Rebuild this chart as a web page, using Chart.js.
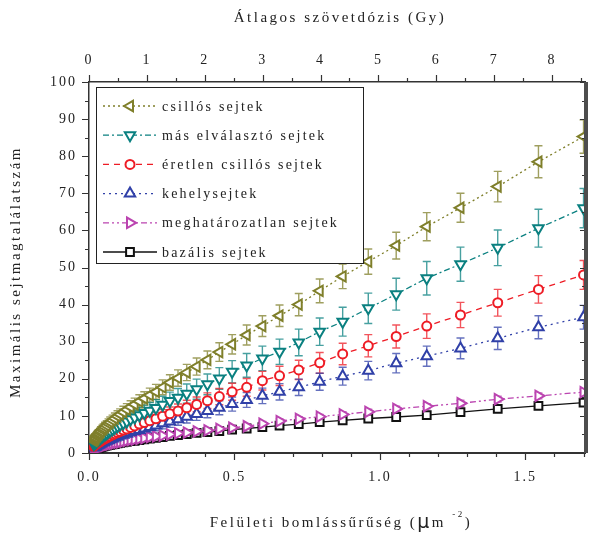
<!DOCTYPE html>
<html>
<head>
<meta charset="utf-8">
<script src="https://cdn.jsdelivr.net/npm/chart.js@4.4.0/dist/chart.umd.min.js"></script>
<style>
  html, body { margin: 0; padding: 0; background: #fff; }
  #wrap { width: 593px; height: 537px; }
</style>
</head>
<body>
<div id="wrap"><canvas id="chart"></canvas></div>
<script>
// Felületi bomlássűrűség (µm^-2) – közös x értékek
const density = [0.016, 0.018, 0.019, 0.021, 0.023, 0.026, 0.028, 0.031, 0.034, 0.038,
                 0.041, 0.046, 0.050, 0.055, 0.061, 0.067, 0.073, 0.081, 0.089, 0.098,
                 0.107, 0.118, 0.130, 0.143, 0.157, 0.173, 0.190, 0.209, 0.230, 0.253,
                 0.278, 0.306, 0.336, 0.370, 0.407, 0.448, 0.492, 0.542, 0.596, 0.655,
                 0.721, 0.793, 0.872, 0.960, 1.056, 1.161, 1.277, 1.405, 1.545, 1.700];

// Maximális sejtmagtalálatszám sejttípusonként
const csillos = [3.3, 3.6, 3.7, 3.9, 4.1, 4.5, 4.7, 5.0, 5.2, 5.6,
                 5.9, 6.3, 6.6, 7.0, 7.4, 7.9, 8.3, 8.8, 9.3, 9.9,
                 10.4, 11.0, 11.7, 12.4, 13.1, 13.9, 14.7, 15.6, 16.5, 17.7,
                 19.0, 20.2, 21.7, 23.3, 25.1, 27.2, 29.3, 31.8, 34.2, 37.0,
                 40.0, 43.7, 47.6, 51.6, 55.9, 61.0, 66.1, 71.8, 78.5, 85.3];
const csillosErr = [0.9, 0.9, 0.9, 0.9, 1.0, 1.0, 1.0, 1.1, 1.1, 1.1,
                    1.2, 1.2, 1.2, 1.3, 1.3, 1.3, 1.4, 1.4, 1.5, 1.5,
                    1.5, 1.6, 1.6, 1.7, 1.7, 1.8, 1.8, 1.9, 2.0, 2.0,
                    2.1, 2.2, 2.2, 2.3, 2.4, 2.5, 2.6, 2.7, 2.8, 2.9,
                    3.0, 3.2, 3.3, 3.4, 3.6, 3.8, 3.9, 4.1, 4.3, 4.5];

const masElvalaszto = [2.4, 2.6, 2.7, 2.8, 2.9, 3.2, 3.4, 3.6, 3.7, 4.0,
                       4.2, 4.5, 4.8, 5.0, 5.3, 5.7, 6.0, 6.4, 6.8, 7.2,
                       7.6, 8.0, 8.5, 9.1, 9.6, 10.2, 10.8, 11.4, 12.1, 13.0,
                       14.0, 14.9, 16.0, 17.2, 18.5, 20.1, 21.9, 23.6, 25.5, 27.3,
                       29.8, 32.7, 35.4, 39.0, 42.8, 47.1, 50.9, 55.3, 60.6, 66.0];
const masElvalasztoErr = [1.0, 1.0, 1.1, 1.1, 1.1, 1.2, 1.2, 1.2, 1.3, 1.3,
                          1.3, 1.4, 1.4, 1.5, 1.5, 1.6, 1.6, 1.6, 1.7, 1.7,
                          1.8, 1.8, 1.9, 2.0, 2.0, 2.1, 2.1, 2.2, 2.3, 2.3,
                          2.4, 2.5, 2.6, 2.7, 2.8, 2.9, 3.0, 3.2, 3.3, 3.4,
                          3.6, 3.7, 3.9, 4.1, 4.3, 4.5, 4.6, 4.8, 5.1, 5.3];

const eretlen = [1.8, 2.0, 2.1, 2.2, 2.3, 2.5, 2.6, 2.8, 2.9, 3.1,
                 3.3, 3.5, 3.7, 3.9, 4.1, 4.4, 4.6, 4.9, 5.2, 5.5,
                 5.8, 6.2, 6.5, 6.9, 7.3, 7.8, 8.2, 8.7, 9.2, 9.9,
                 10.6, 11.3, 12.2, 13.1, 14.1, 15.2, 16.5, 17.7, 19.5, 20.8,
                 22.4, 24.3, 26.7, 28.9, 31.4, 34.2, 37.2, 40.5, 44.1, 48.0];
const eretlenErr = [0.8, 0.8, 0.8, 0.8, 0.9, 0.9, 0.9, 0.9, 1.0, 1.0,
                    1.0, 1.0, 1.1, 1.1, 1.1, 1.2, 1.2, 1.2, 1.3, 1.3,
                    1.3, 1.4, 1.4, 1.5, 1.5, 1.6, 1.6, 1.6, 1.7, 1.8,
                    1.8, 1.9, 2.0, 2.0, 2.1, 2.2, 2.3, 2.4, 2.5, 2.6,
                    2.6, 2.8, 2.9, 3.0, 3.1, 3.3, 3.4, 3.6, 3.7, 3.9];

const kehely = [1.5, 1.6, 1.6, 1.7, 1.8, 2.0, 2.1, 2.2, 2.3, 2.5,
                2.6, 2.8, 2.9, 3.1, 3.3, 3.5, 3.7, 3.9, 4.2, 4.4,
                4.7, 4.9, 5.2, 5.6, 5.9, 6.2, 6.6, 7.0, 7.4, 8.0,
                8.5, 9.1, 9.8, 10.5, 11.3, 12.2, 13.2, 14.3, 15.4, 16.5,
                17.7, 19.2, 20.7, 22.2, 24.2, 26.1, 28.2, 30.9, 33.9, 36.6];
const kehelyErr = [0.7, 0.7, 0.7, 0.7, 0.7, 0.8, 0.8, 0.8, 0.8, 0.8,
                   0.9, 0.9, 0.9, 0.9, 1.0, 1.0, 1.0, 1.1, 1.1, 1.1,
                   1.2, 1.2, 1.2, 1.3, 1.3, 1.3, 1.4, 1.4, 1.4, 1.5,
                   1.6, 1.6, 1.7, 1.7, 1.8, 1.9, 1.9, 2.0, 2.1, 2.2,
                   2.2, 2.3, 2.4, 2.5, 2.6, 2.7, 2.8, 3.0, 3.1, 3.2];

const meghatarozatlan = [1.0, 1.1, 1.1, 1.2, 1.3, 1.4, 1.4, 1.5, 1.6, 1.7,
                         1.7, 1.9, 1.9, 2.0, 2.2, 2.3, 2.4, 2.5, 2.7, 2.8,
                         2.9, 3.1, 3.3, 3.5, 3.6, 3.8, 4.0, 4.3, 4.5, 4.7,
                         5.0, 5.3, 5.5, 5.8, 6.1, 6.5, 6.8, 7.2, 7.9, 8.6,
                         9.2, 9.8, 10.4, 11.1, 11.9, 12.6, 13.4, 14.5, 15.4, 16.4];
const meghatarozatlanErr = [0.2, 0.2, 0.2, 0.2, 0.2, 0.2, 0.2, 0.2, 0.2, 0.2,
                            0.3, 0.3, 0.3, 0.3, 0.3, 0.3, 0.3, 0.3, 0.3, 0.3,
                            0.4, 0.4, 0.4, 0.4, 0.4, 0.4, 0.4, 0.4, 0.5, 0.5,
                            0.5, 0.5, 0.5, 0.5, 0.5, 0.5, 0.6, 0.6, 0.6, 0.6,
                            0.6, 0.6, 0.7, 0.7, 0.7, 0.7, 0.8, 0.8, 0.8, 0.8];

const bazalis = [0.95, 1.0, 1.0, 1.1, 1.2, 1.2, 1.3, 1.4, 1.4, 1.5,
                 1.6, 1.7, 1.8, 1.9, 2.0, 2.1, 2.2, 2.3, 2.4, 2.6,
                 2.7, 2.9, 3.0, 3.2, 3.3, 3.5, 3.7, 3.9, 4.1, 4.3,
                 4.6, 4.8, 5.1, 5.4, 5.6, 5.9, 6.3, 6.6, 7.0, 7.4,
                 7.8, 8.3, 8.8, 9.3, 9.7, 10.2, 11.0, 11.9, 12.7, 13.6];
const bazalisErr = [0.2, 0.2, 0.2, 0.2, 0.2, 0.2, 0.2, 0.2, 0.2, 0.2,
                    0.2, 0.2, 0.3, 0.3, 0.3, 0.3, 0.3, 0.3, 0.3, 0.3,
                    0.3, 0.3, 0.3, 0.3, 0.4, 0.4, 0.4, 0.4, 0.4, 0.4,
                    0.4, 0.4, 0.4, 0.4, 0.5, 0.5, 0.5, 0.5, 0.5, 0.5,
                    0.5, 0.5, 0.6, 0.6, 0.6, 0.6, 0.6, 0.6, 0.6, 0.6];

// Tengelyek feliratai
const densityTicks = [0, 0.5, 1.0, 1.5];
const doseTicks = [0, 1, 2, 3, 4, 5, 6, 7, 8];
const countTicks = [0, 10, 20, 30, 40, 50, 60, 70, 80, 90, 100];
const densityMax = 1.705;
const doseMax = 8.57;

const SERIF = "'Liberation Serif', 'DejaVu Serif', serif";
const TEXT = '#222';

function pts(ys) {
    return density.map((x, i) => ({ x: x, y: ys[i] }));
}

function series(label, ys, errs, color, dash, style, rotation, radius) {
    return {
        label: label,
        data: pts(ys),
        errors: errs,
        showLine: true,
        borderColor: color,
        backgroundColor: color,
        borderWidth: 1.3,
        borderDash: dash,
        pointStyle: style,
        rotation: rotation,
        pointRadius: radius,
        pointBorderWidth: 2,
        pointBorderColor: color,
        pointBackgroundColor: '#fff',
        tension: 0
    };
}

const datasets = [
    series('csillós sejtek', csillos, csillosErr, '#7f7f2a', [2, 3], 'triangle', -90, 6),
    series('más elválasztó sejtek', masElvalaszto, masElvalasztoErr, '#0a8080', [6, 3, 2, 3], 'triangle', 180, 6),
    series('éretlen csillós sejtek', eretlen, eretlenErr, '#ee1c25', [6, 5], 'circle', 0, 4.5),
    series('kehelysejtek', kehely, kehelyErr, '#3040a8', [2, 4], 'triangle', 0, 6),
    series('meghatározatlan sejtek', meghatarozatlan, meghatarozatlanErr, '#bb44b0', [6, 3, 2, 3, 2, 3], 'triangle', 90, 6),
    series('bazális sejtek', bazalis, bazalisErr, '#111111', [], 'rect', 0, 5.5)
];

// Jelölő rajzolása a jelmagyarázathoz
function drawMarker(ctx, ds, x, y) {
    const r = ds.pointRadius;
    ctx.save();
    ctx.lineWidth = ds.pointBorderWidth;
    ctx.strokeStyle = ds.pointBorderColor;
    ctx.fillStyle = ds.pointBackgroundColor;
    ctx.setLineDash([]);
    ctx.beginPath();
    if (ds.pointStyle === 'circle') {
        ctx.arc(x, y, r, 0, Math.PI * 2);
    } else if (ds.pointStyle === 'rect') {
        const s = Math.SQRT1_2 * r;
        ctx.rect(x - s, y - s, 2 * s, 2 * s);
    } else {
        let rad = ds.rotation * Math.PI / 180;
        for (let k = 0; k < 3; k++) {
            const px = x + Math.sin(rad) * r;
            const py = y - Math.cos(rad) * r;
            if (k === 0) ctx.moveTo(px, py); else ctx.lineTo(px, py);
            rad += 2 * Math.PI / 3;
        }
        ctx.closePath();
    }
    ctx.fill();
    ctx.stroke();
    ctx.restore();
}

// Hibasávok a pontok alatt
const errorBars = {
    id: 'errorBars',
    beforeDatasetsDraw(chart) {
        const ctx = chart.ctx;
        const ys = chart.scales.y;
        const area = chart.chartArea;
        ctx.save();
        ctx.beginPath();
        ctx.rect(area.left, area.top, area.right - area.left, area.bottom - area.top);
        ctx.clip();
        chart.data.datasets.forEach((ds, i) => {
            const meta = chart.getDatasetMeta(i);
            ctx.strokeStyle = ds.borderColor;
            ctx.globalAlpha = 0.75;
            ctx.lineWidth = 1.4;
            ctx.setLineDash([]);
            ctx.beginPath();
            meta.data.forEach((el, j) => {
                const v = ds.data[j].y;
                const e = ds.errors[j];
                const y1 = ys.getPixelForValue(v + e);
                const y2 = ys.getPixelForValue(v - e);
                ctx.moveTo(el.x, y1); ctx.lineTo(el.x, y2);
                ctx.moveTo(el.x - 4, y1); ctx.lineTo(el.x + 4, y1);
                ctx.moveTo(el.x - 4, y2); ctx.lineTo(el.x + 4, y2);
            });
            ctx.stroke();
        });
        ctx.restore();
    }
};

// Betűköz a feliratokhoz, osztásjelek, keret, tengelycímek, jelmagyarázat
const frame = {
    id: 'frame',
    beforeLayout(chart) { chart.ctx.letterSpacing = '2px'; },
    beforeDraw(chart) { chart.ctx.letterSpacing = '2px'; },
    afterDraw(chart) {
        const ctx = chart.ctx;
        const { left, right, top, bottom } = chart.chartArea;
        const sx = chart.scales.x, sx2 = chart.scales.x2, sy = chart.scales.y;

        ctx.save();
        ctx.setLineDash([]);
        ctx.strokeStyle = '#333';
        ctx.lineWidth = 1.2;
        ctx.beginPath();
        for (let i = 0; i <= 17; i++) {
            const px = Math.round(sx.getPixelForValue(i / 10)) + 0.5;
            const len = i % 5 === 0 ? 7 : 4;
            ctx.moveTo(px, bottom); ctx.lineTo(px, bottom + len);
        }
        for (let i = 0; i <= 17; i++) {
            const v = i / 2;
            if (v > doseMax) break;
            const px = Math.round(sx2.getPixelForValue(v)) + 0.5;
            const len = i % 2 === 0 ? 7 : 4;
            ctx.moveTo(px, top); ctx.lineTo(px, top - len);
        }
        for (let i = 0; i <= 20; i++) {
            const py = Math.round(sy.getPixelForValue(i * 5)) + 0.5;
            const len = i % 2 === 0 ? 7 : 4;
            ctx.moveTo(left, py); ctx.lineTo(left - len, py);
            ctx.moveTo(right, py); ctx.lineTo(right - (i % 2 === 0 ? 5 : 3), py);
        }
        ctx.stroke();

        // jobb oldali keret
        ctx.fillStyle = '#4d4d4d';
        ctx.fillRect(right - 1, top, 4, bottom - top);

        // tengelycímek
        ctx.fillStyle = TEXT;
        ctx.letterSpacing = '2.5px';
        ctx.font = '15px ' + SERIF;
        ctx.textBaseline = 'middle';
        ctx.textAlign = 'center';
        ctx.fillText('Átlagos szövetdózis (Gy)', 340, 18);

        ctx.save();
        ctx.translate(16, 272);
        ctx.rotate(-Math.PI / 2);
        ctx.fillText('Maximális sejtmagtalálatszám', 0, 0);
        ctx.restore();

        const parts = [
            { t: 'Felületi bomlássűrűség (', f: '15px ' + SERIF, dy: 0 },
            { t: 'μ', f: '19px "DejaVu Sans", sans-serif', dy: 0 },
            { t: 'm ', f: '15px ' + SERIF, dy: 0 },
            { t: '-2', f: '9px ' + SERIF, dy: -8 },
            { t: ')', f: '15px ' + SERIF, dy: 0 }
        ];
        let total = 0;
        parts.forEach(p => { ctx.font = p.f; p.w = ctx.measureText(p.t).width; total += p.w; });
        let cx = 341 - total / 2;
        ctx.textAlign = 'left';
        parts.forEach(p => { ctx.font = p.f; ctx.fillText(p.t, cx, 523 + p.dy); cx += p.w; });

        // jelmagyarázat
        const lx = 96.5, ly = 87.5, lw = 267, lh = 176;
        ctx.fillStyle = '#fff';
        ctx.fillRect(lx, ly, lw, lh);
        ctx.strokeStyle = '#222';
        ctx.lineWidth = 1;
        ctx.strokeRect(lx, ly, lw, lh);
        ctx.font = '14px ' + SERIF;
        ctx.letterSpacing = '2.2px';
        chart.data.datasets.forEach((ds, i) => {
            const cy = 106 + i * 29.2;
            ctx.strokeStyle = ds.borderColor;
            ctx.lineWidth = 1.3;
            ctx.setLineDash(ds.borderDash);
            ctx.beginPath();
            ctx.moveTo(103, cy); ctx.lineTo(157, cy);
            ctx.stroke();
            drawMarker(ctx, ds, 130, cy);
            ctx.fillStyle = TEXT;
            ctx.textAlign = 'left';
            ctx.textBaseline = 'middle';
            ctx.fillText(ds.label, 162, cy + 1);
        });
        ctx.restore();
    }
};

const tickFont = { family: SERIF, size: 14 };

const chart = new Chart(document.getElementById('chart'), {
    type: 'scatter',
    data: { datasets: datasets },
    options: {
        responsive: true,
        maintainAspectRatio: false,
        animation: false,
        devicePixelRatio: 1,
        layout: { padding: { left: 0, right: 3, top: 0, bottom: 0 } },
        plugins: { legend: { display: false }, tooltip: { enabled: false } },
        scales: {
            x: {
                type: 'linear', position: 'bottom', min: 0, max: densityMax,
                grid: { display: false, drawTicks: false },
                border: { display: true, color: '#333', width: 2 },
                afterBuildTicks: s => { s.ticks = densityTicks.map(v => ({ value: v })); },
                afterFit: s => { s.height = 84; },
                ticks: { font: tickFont, color: TEXT, padding: 16, autoSkip: false, maxRotation: 0,
                         callback: v => v.toFixed(1) }
            },
            x2: {
                type: 'linear', axis: 'x', position: 'top', min: 0, max: doseMax,
                grid: { display: false, drawTicks: false },
                border: { display: true, color: '#333', width: 1.5 },
                afterBuildTicks: s => { s.ticks = doseTicks.map(v => ({ value: v })); },
                afterFit: s => { s.height = 82; },
                ticks: { font: tickFont, color: TEXT, padding: 13, autoSkip: false, maxRotation: 0 }
            },
            y: {
                type: 'linear', position: 'left', min: 0, max: 100,
                grid: { display: false, drawTicks: false },
                border: { display: true, color: '#333', width: 1.5 },
                afterBuildTicks: s => { s.ticks = countTicks.map(v => ({ value: v })); },
                afterFit: s => { s.width = 89; },
                ticks: { font: tickFont, color: TEXT, padding: 12, autoSkip: false }
            }
        }
    },
    plugins: [errorBars, frame]
});
</script>
</body>
</html>
